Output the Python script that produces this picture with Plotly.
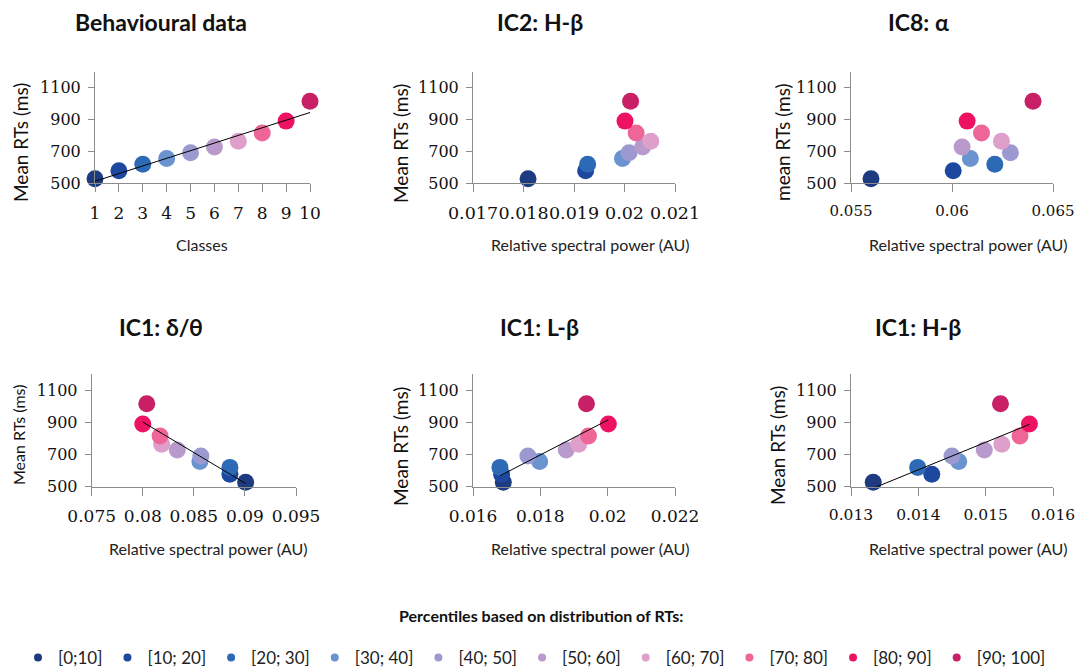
import numpy as np
import plotly.graph_objects as go

# ---------------- data ----------------
class_labels = ["[0;10]", "[10; 20]", "[20; 30]", "[30; 40]", "[40; 50]",
                "[50; 60]", "[60; 70]", "[70; 80]", "[80; 90]", "[90; 100]"]
class_colors = ["#1E3A80", "#1D48A0", "#2C6AB5", "#6A93CF", "#9B99CF",
                "#B89ACC", "#DE9FCB", "#EE6698", "#EE1263", "#C81F66"]
classes = [1, 2, 3, 4, 5, 6, 7, 8, 9, 10]
mean_rts = [528, 578, 620, 656, 691, 728, 764, 815, 890, 1015]

ic2_hbeta = [0.01809, 0.01923, 0.01927, 0.01996, 0.02009, 0.02036, 0.02052, 0.02023, 0.02001, 0.02012]
ic8_alpha = [0.05599, 0.06006, 0.06212, 0.06091, 0.06289, 0.06050, 0.06245, 0.06146, 0.06075, 0.06401]
ic1_delta_theta = [0.09007, 0.08853, 0.08853, 0.08559, 0.08569, 0.08338, 0.08185, 0.08169, 0.08000, 0.08039]
ic1_lbeta = [0.01690, 0.01685, 0.01680, 0.01798, 0.01763, 0.01877, 0.01914, 0.01943, 0.02002, 0.01937]
ic1_hbeta = [0.01333, 0.01420, 0.01399, 0.01460, 0.01450, 0.01498, 0.01524, 0.01551, 0.01565, 0.01522]

y_ticks = [500, 700, 900, 1100]
y_range = [500, 1200]

p1_xticks = classes
p1_xticktext = ["1", "2", "3", "4", "5", "6", "7", "8", "9", "10"]
p2_xticks = [0.017, 0.018, 0.019, 0.020, 0.021]
p2_xticktext = ["0.017", "0.018", "0.019", "0.02", "0.021"]
p3_xticks = [0.055, 0.060, 0.065]
p3_xticktext = ["0.055", "0.06", "0.065"]
p4_xticks = [0.075, 0.080, 0.085, 0.090, 0.095]
p4_xticktext = ["0.075", "0.08", "0.085", "0.09", "0.095"]
p5_xticks = [0.016, 0.018, 0.020, 0.022]
p5_xticktext = ["0.016", "0.018", "0.02", "0.022"]
p6_xticks = [0.013, 0.014, 0.015, 0.016]
p6_xticktext = ["0.013", "0.014", "0.015", "0.016"]

titles = ["Behavioural data", "IC2: H-\u03b2", "IC8: \u03b1",
          "IC1: \u03b4/\u03b8", "IC1: L-\u03b2", "IC1: H-\u03b2"]
y_titles = ["Mean RTs (ms)", "Mean RTs (ms)", "mean RTs (ms)",
            "Mean RTs (ms)", "Mean RTs (ms)", "Mean RTs (ms)"]
x_titles = ["Classes", "Relative spectral power (AU)", "Relative spectral power (AU)",
            "Relative spectral power (AU)", "Relative spectral power (AU)", "Relative spectral power (AU)"]
legend_title = "Percentiles based on distribution of RTs:"

# ---------------- layout configuration ----------------
# the page body has an 8 px margin, so the figure is shifted by that offset;
# target positions below are window pixels and are converted accordingly
OFF = 8
W, H = 1083 - OFF, 670 - OFF
panels = [
    dict(x=classes, xr=[1, 10], tv=p1_xticks, tt=p1_xticktext, trend=True,
         px=(95, 310), py=(71.7, 183.3), tfs=17,
         title_xy=(161, 22), yt_xy=(20, 143), yt_fs=19, xt_xy=(202, 245)),
    dict(x=ic2_hbeta, xr=[0.017, 0.021], tv=p2_xticks, tt=p2_xticktext, trend=False,
         px=(473, 675), py=(71.7, 183.3), tfs=17.5,
         title_xy=(540, 22), yt_xy=(400, 143), yt_fs=19, xt_xy=(590, 245)),
    dict(x=ic8_alpha, xr=[0.055, 0.065], tv=p3_xticks, tt=p3_xticktext, trend=False,
         px=(851, 1053), py=(71.7, 183.3), tfs=15,
         title_xy=(918, 22), yt_xy=(782, 142), yt_fs=19, xt_xy=(968, 245)),
    dict(x=ic1_delta_theta, xr=[0.075, 0.095], tv=p4_xticks, tt=p4_xticktext, trend=True,
         px=(91.7, 296), py=(374, 486.7), tfs=17,
         title_xy=(161, 327), yt_xy=(18, 435), yt_fs=16, xt_xy=(208, 548)),
    dict(x=ic1_lbeta, xr=[0.016, 0.022], tv=p5_xticks, tt=p5_xticktext, trend=True,
         px=(473, 675), py=(374, 486.7), tfs=17,
         title_xy=(539, 327), yt_xy=(400, 446), yt_fs=19, xt_xy=(590, 548)),
    dict(x=ic1_hbeta, xr=[0.013, 0.016], tv=p6_xticks, tt=p6_xticktext, trend=True,
         px=(851, 1053), py=(374, 486.7), tfs=15.5,
         title_xy=(918, 327), yt_xy=(777, 446), yt_fs=19, xt_xy=(968, 548)),
]

SANS = "Lato, 'Noto Sans', sans-serif"
SERIF = "'DejaVu Serif', serif"
AXC = "#8C8C8C"

fig = go.Figure()
layout = dict(
    width=W, height=H, margin=dict(l=0, r=0, t=0, b=0, autoexpand=False),
    paper_bgcolor="white", plot_bgcolor="white",
    showlegend=True, annotations=[],
)

def fx(px):
    return (px - OFF) / W

def fy(py):
    return 1 - (py - OFF) / H

for i, p in enumerate(panels):
    n = i + 1
    xa = "x" if n == 1 else f"x{n}"
    ya = "y" if n == 1 else f"y{n}"
    for k in range(10):
        fig.add_trace(go.Scatter(
            x=[p["x"][k]], y=[mean_rts[k]], mode="markers",
            marker=dict(size=17, color=class_colors[k], line=dict(width=0)),
            name=class_labels[k], legendgroup=class_labels[k], showlegend=False,
            xaxis=xa, yaxis=ya, cliponaxis=False,
            hovertemplate="%{x}, %{y}<extra>" + class_labels[k] + "</extra>"))
    if p["trend"]:
        xs = np.array(p["x"], dtype=float)
        ys = np.array(mean_rts, dtype=float)
        slope, icpt = np.polyfit(xs, ys, 1)
        xl = [xs.min(), xs.max()]
        fig.add_trace(go.Scatter(
            x=xl, y=[slope * v + icpt for v in xl], mode="lines",
            line=dict(color="black", width=1), showlegend=False,
            xaxis=xa, yaxis=ya, cliponaxis=False, hoverinfo="skip"))

    xkey = "xaxis" if n == 1 else f"xaxis{n}"
    ykey = "yaxis" if n == 1 else f"yaxis{n}"
    layout[xkey] = dict(
        domain=[fx(p["px"][0]), fx(p["px"][1])], anchor=ya, range=p["xr"],
        tickmode="array", tickvals=p["tv"], ticktext=p["tt"], tickangle=0,
        showgrid=False, zeroline=False, showline=True, linecolor=AXC, linewidth=1,
        ticks="outside", ticklen=8, tickcolor=AXC, ticklabelstandoff=6,
        ticklabeloverflow="allow",
        tickfont=dict(family=SERIF, size=p["tfs"], color="#111"))
    layout[ykey] = dict(
        domain=[fy(p["py"][1]), fy(p["py"][0])], anchor=xa, range=y_range,
        tickmode="array", tickvals=y_ticks, ticktext=[str(v) for v in y_ticks],
        showgrid=False, zeroline=False, showline=True, linecolor=AXC, linewidth=1,
        ticks="outside", ticklen=6, tickcolor=AXC, ticklabelstandoff=4,
        tickfont=dict(family=SERIF, size=16, color="#111"))

    layout["annotations"].append(dict(
        text=titles[i], x=fx(p["title_xy"][0]), y=fy(p["title_xy"][1]),
        xref="paper", yref="paper", xanchor="center", yanchor="middle",
        showarrow=False, font=dict(family=SANS, size=23, color="#111", weight="bold")))
    layout["annotations"].append(dict(
        text=y_titles[i], x=fx(p["yt_xy"][0]), y=fy(p["yt_xy"][1]),
        xref="paper", yref="paper", xanchor="center", yanchor="middle", textangle=-90,
        showarrow=False, font=dict(family=SANS, size=p["yt_fs"], color="#111")))
    layout["annotations"].append(dict(
        text=x_titles[i], x=fx(p["xt_xy"][0]), y=fy(p["xt_xy"][1]),
        xref="paper", yref="paper", xanchor="center", yanchor="middle",
        showarrow=False, font=dict(family=SANS, size=16, color="#222")))

# legend entries
for k in range(10):
    fig.add_trace(go.Scatter(
        x=[None], y=[None], mode="markers",
        marker=dict(size=8, color=class_colors[k]),
        name=class_labels[k], legendgroup=class_labels[k], showlegend=True))

layout["annotations"].append(dict(
    text=legend_title, x=fx(541), y=fy(615), xref="paper", yref="paper",
    xanchor="center", yanchor="middle", showarrow=False,
    font=dict(family=SANS, size=16, color="#111", weight="bold")))

layout["legend"] = dict(
    orientation="h", x=fx(18), y=fy(658), xanchor="left", yanchor="middle",
    itemwidth=30,
    font=dict(family=SANS, size=17, color="#222"), bgcolor="rgba(0,0,0,0)",
    tracegroupgap=0)

fig.update_layout(**layout)
fig.write_html("out.html")
